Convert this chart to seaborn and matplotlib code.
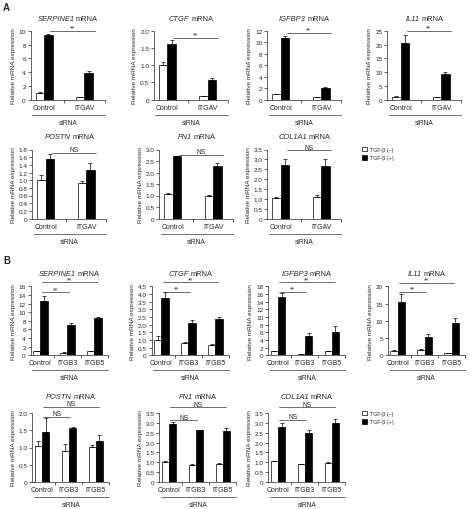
import numpy as np
import pandas as pd
import matplotlib
matplotlib.use("Agg")
import matplotlib.pyplot as plt
from matplotlib.patches import Patch
import seaborn as sns

genes = ["SERPINE1", "CTGF", "IGFBP3", "IL11", "POSTN", "FN1", "COL1A1"]
groups_a = ["Control", "ITGAV"]
groups_b = ["Control", "ITGB3", "ITGB5"]
treatments = ["TGF-β (–)", "TGF-β (+)"]

# Panel A, one row per gene: [Control, ITGAV]
a_neg = [[1.0, 0.35], [1.02, 0.10], [0.95, 0.40], [1.0, 0.8], [1.0, 0.92], [1.05, 0.97], [1.05, 1.10]]
a_neg_err = [[0.1, 0.05], [0.07, 0.02], [0.05, 0.05], [0.2, 0.3], [0.13, 0.07], [0.07, 0.06], [0.04, 0.1]]
a_pos = [[9.4, 3.8], [1.62, 0.57], [10.8, 2.0], [20.5, 9.4], [1.55, 1.27], [2.7, 2.27], [2.72, 2.65]]
a_pos_err = [[0.1, 0.4], [0.1, 0.05], [0.35, 0.15], [3.0, 0.7], [0.12, 0.18], [0.03, 0.13], [0.3, 0.38]]
a_ymax = [10, 2.0, 12, 25, 1.8, 3.0, 3.5]
a_ystep = [2, 0.5, 2, 5, 0.2, 0.5, 0.5]
a_sig = ["**", "**", "**", "**", "NS", "NS", "NS"]
a_sig_y = [10.0, 1.8, 11.6, 24.8, 1.72, 2.78, 3.47]

# Panel B, one row per gene: [Control, ITGB3, ITGB5]
b_neg = [[1.0, 0.6, 0.9], [1.0, 0.82, 0.7], [1.0, 0.3, 1.1], [1.2, 1.6, 0.6], [1.03, 0.9, 1.02], [1.0, 0.85, 0.93], [1.05, 0.9, 0.97]]
b_neg_err = [[0.1, 0.05, 0.1], [0.25, 0.03, 0.05], [0.15, 0.05, 0.05], [0.3, 0.2, 0.15], [0.15, 0.2, 0.05], [0.07, 0.07, 0.02], [0.02, 0.02, 0.02]]
b_pos = [[12.6, 7.0, 8.6], [3.72, 2.12, 2.38], [15.3, 5.0, 6.2], [15.5, 5.3, 9.3], [1.45, 1.57, 1.2], [2.93, 2.62, 2.57], [2.8, 2.47, 3.0]]
b_pos_err = [[1.2, 0.5, 0.3], [0.4, 0.15, 0.1], [1.0, 0.8, 1.4], [2.2, 0.8, 1.5], [0.4, 0.03, 0.15], [0.1, 0.03, 0.17], [0.2, 0.17, 0.2]]
b_ymax = [16, 4.5, 18, 20, 2.0, 3.5, 3.5]
b_ystep = [2, 0.5, 2, 5, 0.5, 0.5, 0.5]
b_sig = ["**", "**", "**", "**", "NS", "NS", "NS"]
b_sig_lo = [14.6, 4.12, 16.5, 18.3, 1.89, 3.15, 3.16]   # Control vs ITGB3
b_sig_hi = [16.9, 4.75, 19.0, 21.1, 2.18, 3.79, 3.79]   # Control vs ITGB5

sns.set_style("ticks")
plt.rcParams["font.family"] = ["Liberation Sans", "DejaVu Sans"]

W, H = 471, 510
fig = plt.figure(figsize=(W / 100, H / 100), dpi=100)
renderer = fig.canvas.get_renderer()

# pixel layout: left x, top y of each axes
pos_a = [(30.7, 31.7), (154, 31.7), (267.3, 31.7), (387.3, 31.7),
         (32.3, 150.5), (159.3, 150.5), (267.3, 150.5)]
pos_b = [(30.7, 287.3), (151.7, 287.3), (268.3, 287.3), (388, 287.3),
         (32.3, 414), (159.3, 414), (268.3, 414)]
AX_H = 69


def fmt_tick(v, step):
    if v == 0:
        return "0"
    return f"{v:.1f}" if step < 1 else f"{v:g}"


def add_title(ax, gene, w, dy):
    # italic gene symbol followed by upright "mRNA", centred together
    y = 1 + dy / AX_H
    t1 = ax.text(0, y, gene, style="italic", fontsize=5.4, transform=ax.transAxes,
                 ha="left", va="center")
    t2 = ax.text(0, y, "mRNA", fontsize=5.4, transform=ax.transAxes, ha="left", va="center")
    w1 = t1.get_window_extent(renderer).width
    w2 = t2.get_window_extent(renderer).width
    gap = 1.6
    start = 0.5 - (w1 + gap + w2) / 2 / w
    t1.set_x(start)
    t2.set_x(start + (w1 + gap) / w)


def draw_panel(x0, y0, w, gene, groups, neg, neg_err, pos, pos_err, ymax, ystep, barw, xleft, title_dy):
    ax = fig.add_axes([x0 / W, 1 - (y0 + AX_H) / H, w / W, AX_H / H])
    n = len(groups)
    df = pd.DataFrame({
        "group": groups * 2,
        "tgf": [treatments[0]] * n + [treatments[1]] * n,
        "value": neg + pos,
    })
    sns.barplot(data=df, x="group", y="value", hue="tgf", palette=["white", "black"],
                saturation=1, edgecolor="black", linewidth=0.5, width=barw,
                errorbar=None, legend=False, ax=ax)
    for cont, err in zip(ax.containers, [neg_err, pos_err]):
        xs = [b.get_x() + b.get_width() / 2 for b in cont]
        ys = [b.get_height() for b in cont]
        ax.errorbar(xs, ys, yerr=[np.zeros(len(err)), err], fmt="none", ecolor="black",
                    elinewidth=0.5, capsize=1.2, capthick=0.5)
    ax.set_xlim(xleft, n - 0.5)
    ax.set_ylim(0, ymax)
    yt = np.arange(0, ymax + ystep / 2, ystep)
    ax.set_yticks(yt)
    ax.set_yticklabels([fmt_tick(v, ystep) for v in yt])
    ax.set_xticks(range(n))
    ax.set_xticklabels(groups)
    ax.set_xticks(np.arange(0.5, n), minor=True)
    ax.tick_params(axis="x", which="major", length=0, pad=3, labelsize=5.0)
    ax.tick_params(axis="x", which="minor", length=2, width=0.5)
    ax.tick_params(axis="y", length=2, width=0.5, pad=1.5, labelsize=4.6)
    ax.set_xlabel("")
    ax.set_ylabel("Relative mRNA expression", fontsize=4.6, labelpad=2)
    sns.despine(ax=ax)
    for s in ["left", "bottom"]:
        ax.spines[s].set_linewidth(0.5)
    add_title(ax, gene, w, title_dy)
    ax.plot([0.02, 1.0], [-15 / AX_H] * 2, transform=ax.transAxes, color="#555555",
            lw=0.6, clip_on=False)
    ax.text(0.5, -22.5 / AX_H, "siRNA", transform=ax.transAxes, ha="center",
            va="center", fontsize=4.8)
    return ax


def sig_line(ax, x0, x1, y, label):
    ax.plot([x0, x1], [y, y], color="#333333", lw=0.5, clip_on=False)
    ax.annotate(label, xy=((x0 + x1) / 2, y), xytext=(0, 1.0), textcoords="offset points",
                ha="center", va="baseline", fontsize=4.8, annotation_clip=False)


for i, g in enumerate(genes):
    x0, y0 = pos_a[i]
    ax = draw_panel(x0, y0, 74, g, groups_a, a_neg[i], a_neg_err[i], a_pos[i], a_pos_err[i],
                    a_ymax[i], a_ystep[i], 0.42, -0.33, 12 if i < 4 else 13)
    sig_line(ax, 0.15, 1.25, a_sig_y[i], a_sig[i])

for i, g in enumerate(genes):
    x0, y0 = pos_b[i]
    ax = draw_panel(x0, y0, 77, g, groups_b, b_neg[i], b_neg_err[i], b_pos[i], b_pos_err[i],
                    b_ymax[i], b_ystep[i], 0.54, -0.36, 13 if i < 4 else 16.3)
    sig_line(ax, 0.05, 1.05, b_sig_lo[i], b_sig[i])
    sig_line(ax, 0.05, 2.1, b_sig_hi[i], b_sig[i])

handles = [Patch(facecolor="white", edgecolor="black", linewidth=0.5),
           Patch(facecolor="black", edgecolor="black", linewidth=0.5)]
for ly in [146, 410]:
    fig.legend(handles, treatments, loc="upper left", bbox_to_anchor=(360 / W, 1 - ly / H),
               frameon=False, fontsize=3.8, handlelength=0.9, handleheight=0.9,
               handletextpad=0.5, labelspacing=0.6, borderaxespad=0)

fig.text(3 / W, 1 - 3 / H, "A", fontsize=7, fontweight="bold", va="top")
fig.text(3 / W, 1 - 256 / H, "B", fontsize=7, fontweight="bold", va="top")

fig.savefig("out.png", dpi=100)
